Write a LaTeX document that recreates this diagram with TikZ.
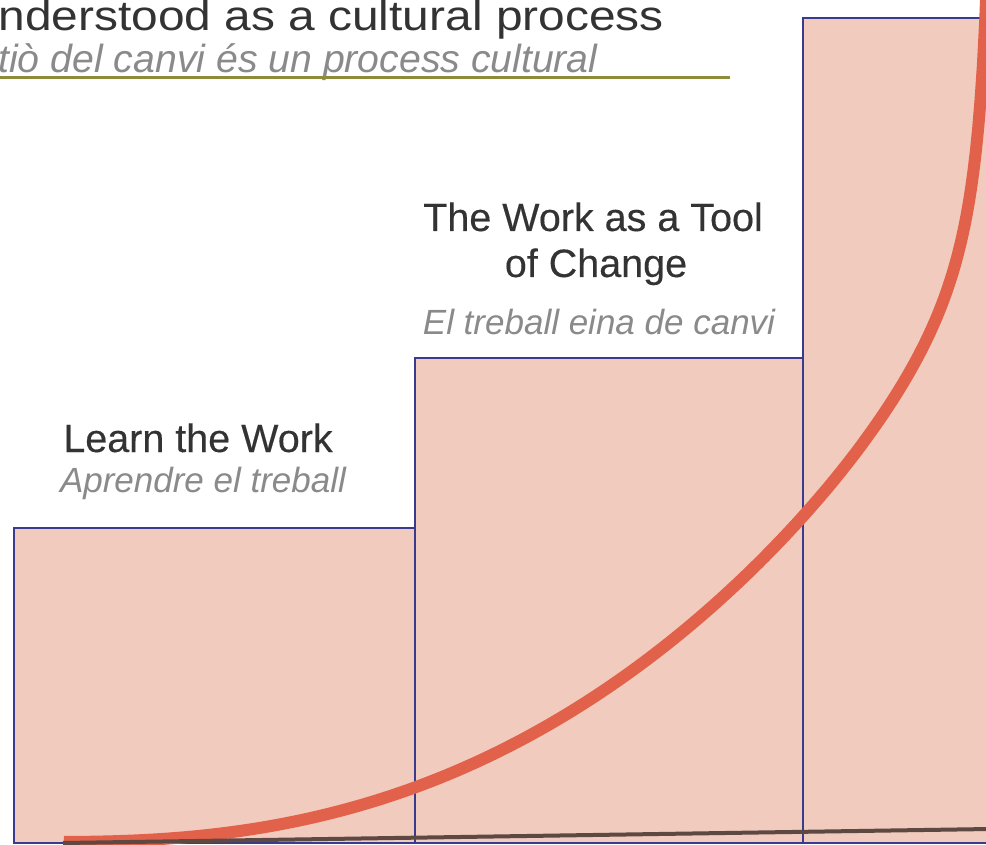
\documentclass[tikz,border=0pt]{standalone}
\usepackage{fontspec}
\setmainfont{Liberation Sans}
\newfontfamily\titlefont[FakeStretch=1.14]{Liberation Sans}
\newfontfamily\headfont[FakeBold=0.3]{Liberation Sans}
\definecolor{stepfill}{HTML}{F1CBBD}
\definecolor{stepline}{HTML}{3A3A8E}
\definecolor{growred}{HTML}{E2614A}
\definecolor{flatbrown}{HTML}{5E4842}
\definecolor{headgrey}{HTML}{333333}
\definecolor{subgrey}{HTML}{8A8A8A}
\definecolor{olive}{HTML}{8C8C3C}
\begin{document}
\begin{tikzpicture}[x=0.5pt, y=-0.5pt]\tikzstyle{every node}=[inner sep=0pt]
\tikzstyle{stepbox}=[draw=stepline, fill=stepfill, line width=1pt]
\tikzstyle{heading}=[text=headgrey, font=\headfont\fontsize{19.75pt}{22.5pt}\selectfont]
\tikzstyle{subheading}=[text=subgrey, font=\fontsize{17.5pt}{21pt}\selectfont\itshape]
\useasboundingbox (0,0) rectangle (986,845);
\clip (0,0) rectangle (986,845);
% title
  \node[anchor=base west, text=headgrey, font=\titlefont\fontsize{21pt}{25pt}\selectfont] (title) at (-2,31) {nderstood as a cultural process};
  \node[anchor=base west, text=subgrey, font=\fontsize{19.6pt}{24pt}\selectfont\itshape] (subtitle) at (-2,73) {tiò del canvi és un process cultural};
  \coordinate (rulestart) at (0,78);
  \coordinate (ruleend) at (730,78);
  \draw[olive, line width=1.5pt] (rulestart) -- (ruleend);
% steps
  \draw[stepbox] (14,528) rectangle (415,843);
  \draw[stepbox] (415,358) rectangle (803,843);
  \draw[stepbox] (803,18) rectangle (1000,843);
% learn the work
  \node[heading, anchor=base] (learn) at (198,452) {Learn the Work};
  \node[subheading, anchor=base] (learncat) at (203,492) {Aprendre el treball};
% the work as a tool of change
  \node[heading, anchor=base] (tool) at (593,231) {The Work as a Tool};
  \node[heading, anchor=base] (change) at (596,277) {of Change};
  \node[subheading, anchor=base] (toolcat) at (599,335) {El treball eina de canvi};
%%%%%%%%%%%%%%%%
\draw[growred, line width=6pt] plot[domain=64:987.5, samples=400] (\x, {842 - 2.524*((\x-63)/100)^2.4 - 4500/(1000-\x) + 4.8});
\draw[flatbrown, line width=2pt] (63,843) -- (990,829);
\end{tikzpicture}
\end{document}
